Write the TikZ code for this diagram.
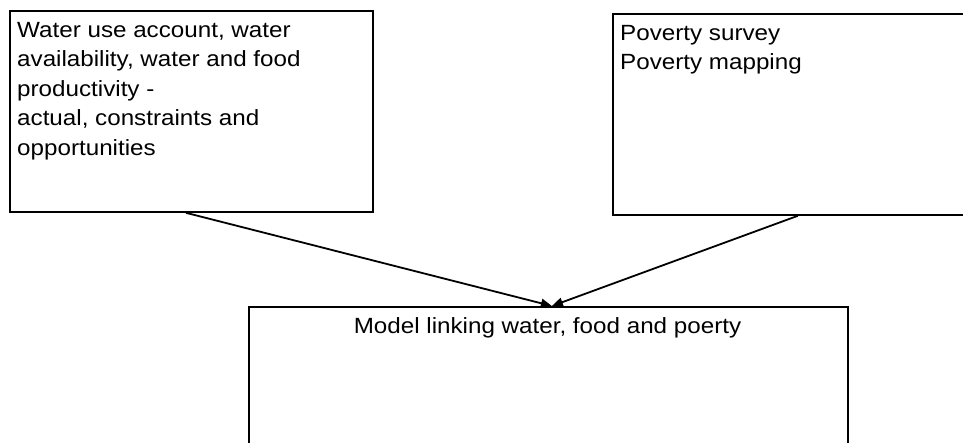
\documentclass[tikz,border=0pt]{standalone}
\usepackage{fontspec}
\setmainfont[FakeStretch=1.1]{Liberation Sans}
\usetikzlibrary{arrows.meta,calc}
\tikzset{
  boxnode/.style={draw=black, line width=1.8pt, rectangle, inner sep=0pt, anchor=north west},
  txt/.style={anchor=north west, inner sep=0pt, align=left, font=\fontsize{22}{29.5}\selectfont},
  link/.style={draw=black, line width=1.8pt, -{Triangle[length=11pt,width=9pt]}}
}
\begin{document}
\begin{tikzpicture}[x=1pt,y=-1pt]
\useasboundingbox (0,0) rectangle (963,442);
\clip (0,0) rectangle (963,442);
\node[boxnode, minimum width=363pt, minimum height=201pt] (wbox) at (9,10) {};
\node[boxnode, minimum width=400pt, minimum height=201pt] (pbox) at (612,13) {};
\node[boxnode, minimum width=599pt, minimum height=200pt] (mbox) at (248,306) {};
\node[txt] (wtext) at (17,16.35) {\strut Water use account, water\\availability, water and food\\productivity -\\actual, constraints and\\opportunities};
\node[txt] (ptext) at (620,19.35) {\strut Poverty survey\\Poverty mapping};
\node[txt, anchor=base] (mtext) at (547.5,333) {Model linking water, food and poerty};
\coordinate (wout) at ($(wbox.south west)!0.485!(wbox.south east)$);
\coordinate (pout) at ($(pbox.south west)!0.4625!(pbox.south east)$);
\coordinate (min) at ($(mbox.north west)!0.5058!(mbox.north east)$);
\draw[link] (wout) -- (min);
\draw[link] (pout) -- (min);
\end{tikzpicture}
\end{document}
